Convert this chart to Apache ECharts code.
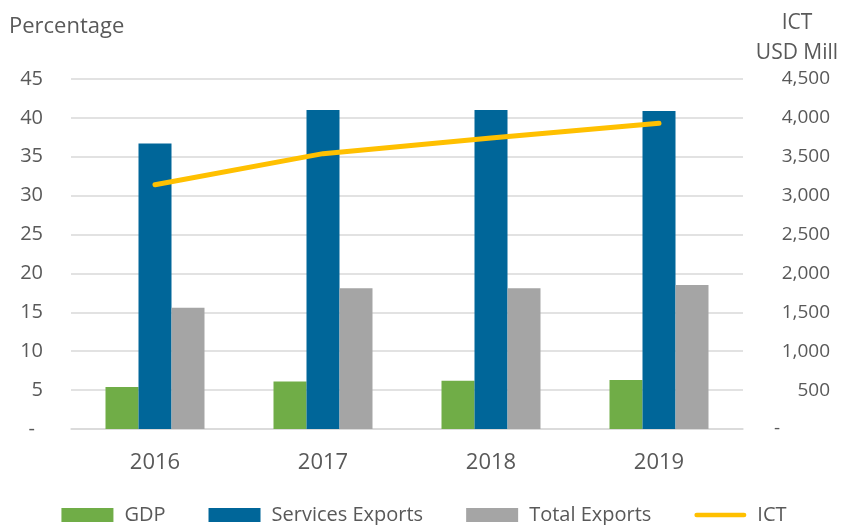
<!DOCTYPE html>
<html>
<head>
<meta charset="utf-8">
<script src="https://cdn.jsdelivr.net/npm/echarts@6/dist/echarts.min.js"></script>
<style>
  html, body { margin: 0; padding: 0; background: #fff; }
  #chart { width: 848px; height: 525px; }
</style>
</head>
<body>
<div id="chart"></div>
<script>
// data
const years = ['2016', '2017', '2018', '2019'];
const gdp = [5.4, 6.1, 6.2, 6.3];
const servicesExports = [36.7, 41.0, 41.0, 40.9];
const totalExports = [15.6, 18.1, 18.1, 18.5];
const ict = [3140, 3540, 3740, 3930];

const textGrey = '#595959';
const font = '"Open Sans", "Liberation Sans", sans-serif';

const chart = echarts.init(document.getElementById('chart'));

const fmtThousands = v => v === 0 ? '{d|-}' : v.toLocaleString('en-US');

const option = {
    animation: false,
    textStyle: { fontFamily: font },
    grid: { left: 71, top: 79, width: 672, height: 350, containLabel: false },
    legend: {
        top: 500, left: 'center', itemGap: 43, itemWidth: 52, itemHeight: 14,
        textStyle: { color: textGrey, fontSize: 20, fontFamily: font, padding: [0, 0, 0, 6] },
        data: [
            { name: 'GDP', icon: 'rect' },
            { name: 'Services Exports', icon: 'rect' },
            { name: 'Total Exports', icon: 'rect' },
            { name: 'ICT', icon: 'path://M2.5,0 L53.5,0 A2.5,2.5 0 0 1 53.5,5 L2.5,5 A2.5,2.5 0 0 1 2.5,0 Z' }
        ]
    },
    graphic: [
        { type: 'text', left: 9, top: 16, style: { text: 'Percentage', fill: textGrey, font: '22px ' + font } },
        { type: 'text', x: 797, y: 8, style: { text: 'ICT\nUSD Mill', fill: textGrey, font: '21px ' + font, align: 'center', lineHeight: 30 } }
    ],
    xAxis: {
        type: 'category', data: years,
        axisTick: { show: false },
        axisLine: { lineStyle: { color: '#d9d9d9', width: 1.5 } },
        axisLabel: { color: textGrey, fontSize: 22, margin: 23 }
    },
    yAxis: [
        {
            type: 'value', min: 0, max: 45, interval: 5,
            axisLabel: {
                color: textGrey, fontSize: 20, margin: 28,
                formatter: v => v === 0 ? '{d|-}' : String(v),
                rich: { d: { fontSize: 20, color: textGrey, padding: [0, 8, 0, 0] } }
            },
            splitLine: { lineStyle: { color: '#d9d9d9', width: 1.5 } },
            axisLine: { show: false }, axisTick: { show: false }
        },
        {
            type: 'value', min: 0, max: 4500, interval: 500,
            axisLabel: {
                color: textGrey, fontSize: 19, margin: 87, align: 'right',
                formatter: fmtThousands,
                rich: { d: { fontSize: 19, color: textGrey, padding: [0, 50, 0, 0] } }
            },
            splitLine: { show: false },
            axisLine: { show: false }, axisTick: { show: false }
        }
    ],
    series: [
        { name: 'GDP', type: 'bar', data: gdp, barWidth: 33, barGap: '0%', itemStyle: { color: '#70AD47' } },
        { name: 'Services Exports', type: 'bar', data: servicesExports, barWidth: 33, barGap: '0%', itemStyle: { color: '#006699' } },
        { name: 'Total Exports', type: 'bar', data: totalExports, barWidth: 33, barGap: '0%', itemStyle: { color: '#A5A5A5' } },
        {
            name: 'ICT', type: 'line', yAxisIndex: 1, data: ict,
            symbol: 'none', itemStyle: { color: '#FFC000' },
            lineStyle: { color: '#FFC000', width: 5, cap: 'round' }
        }
    ]
};

chart.setOption(option);
</script>
</body>
</html>
